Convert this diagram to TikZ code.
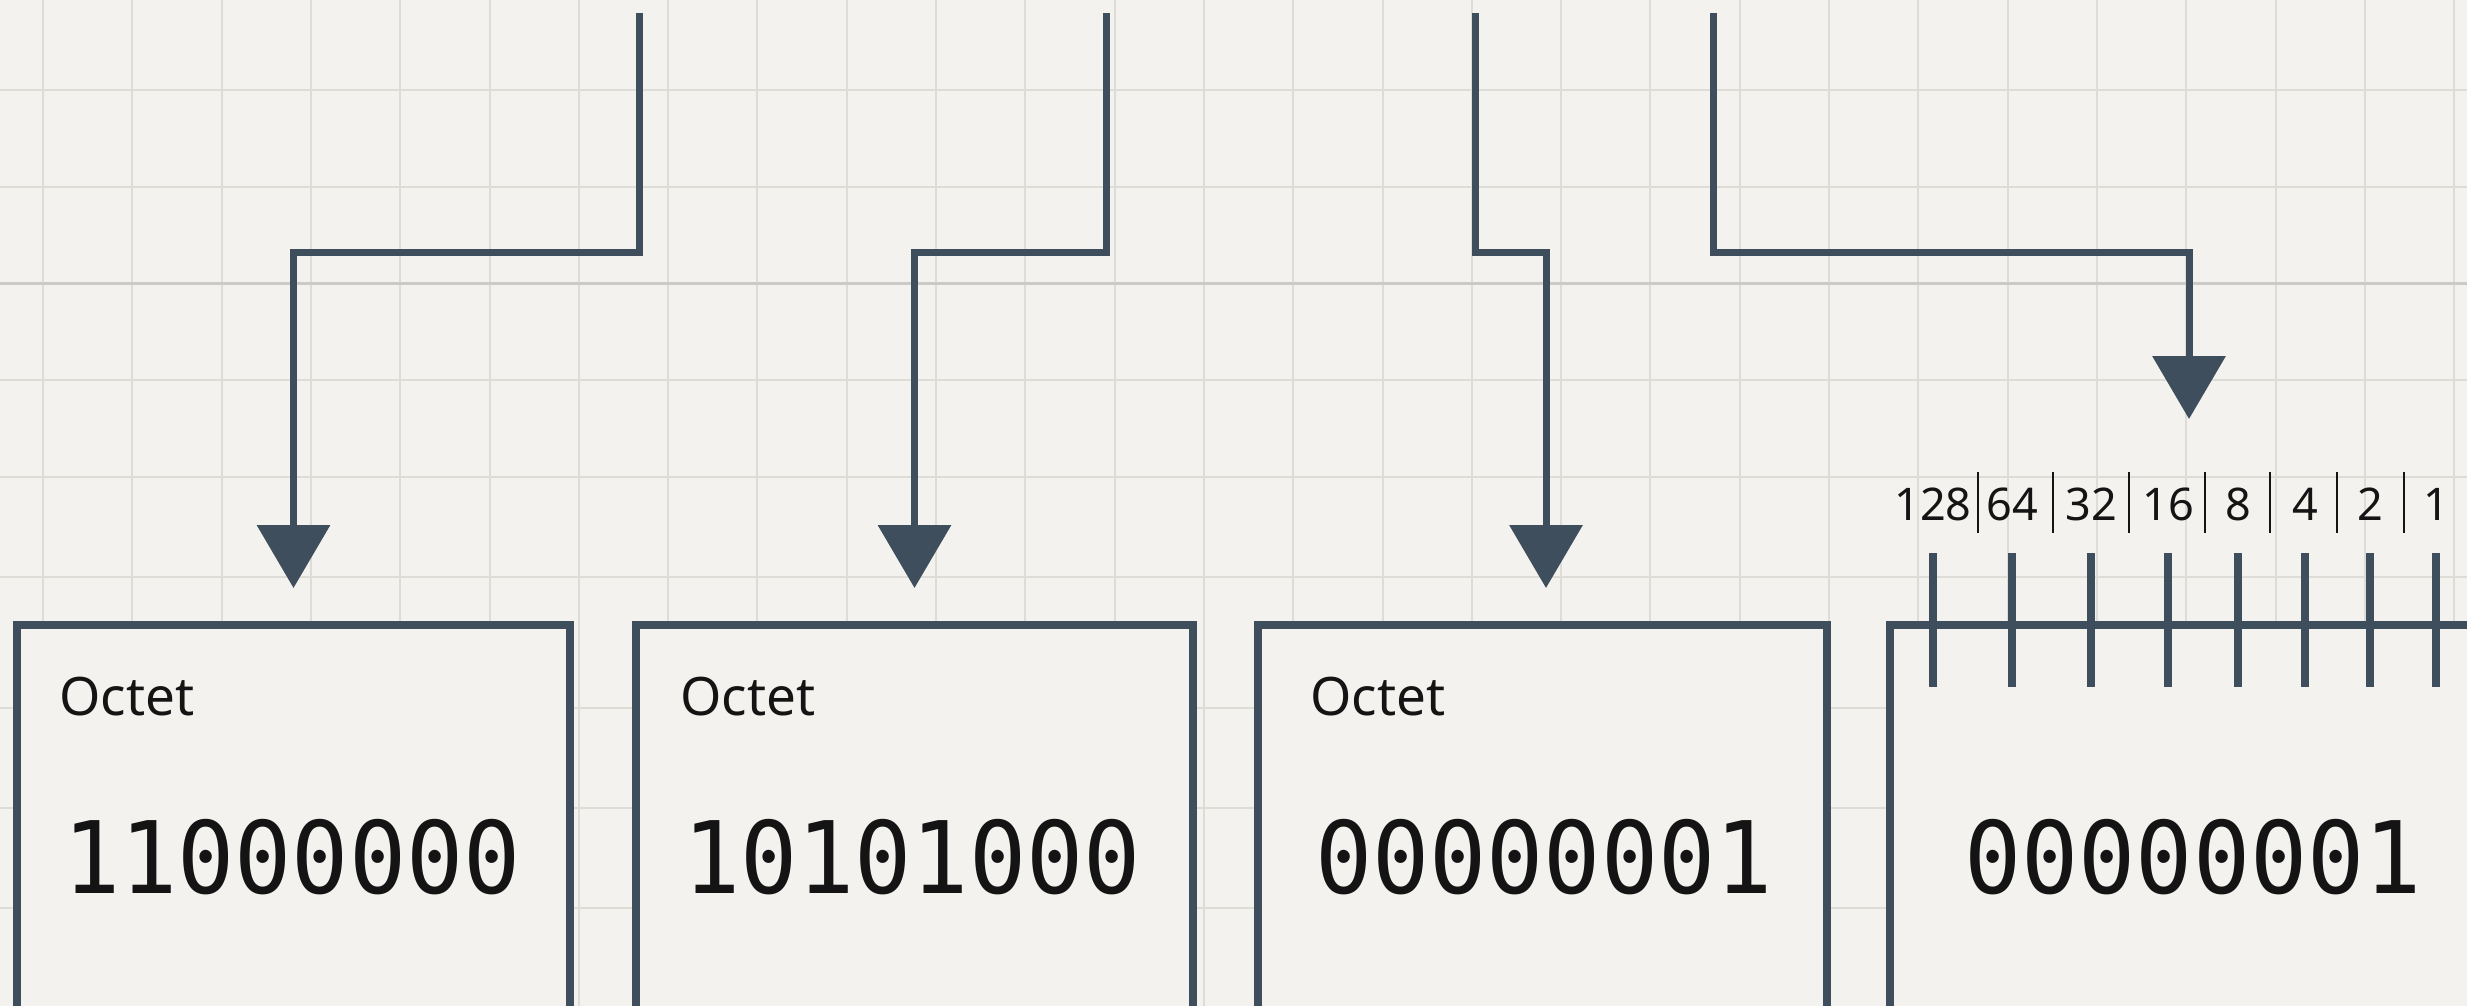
\documentclass[tikz,border=0pt]{standalone}
\usepackage{fontspec}
\setmainfont{Noto Sans}
\newfontfamily\digitfont[FakeStretch=0.95]{DejaVu Sans Mono}
\usetikzlibrary{arrows.meta}

\definecolor{paper}{HTML}{F3F2EE}
\definecolor{gridc}{HTML}{DDDCD7}
\definecolor{slate}{HTML}{3E4E5C}
\definecolor{ink}{HTML}{141414}

\begin{document}
\begin{tikzpicture}[x=1pt,y=-1pt,
  gridline/.style={draw=gridc, line width=2pt},
  octetbox/.style={rectangle, draw=slate, line width=8pt, fill=paper,
    inner sep=0pt, outer sep=0pt, anchor=north west, minimum height=520pt},
  conn/.style={draw=slate, line width=7pt, line join=miter,
    -{Triangle[length=63pt,width=72pt]}},
  tickmark/.style={draw=slate, line width=7.5pt},
  sepbar/.style={draw=ink, line width=2.8pt},
  octettitle/.style={font=\fontsize{53}{60}\selectfont, text=ink,
    inner sep=0pt, anchor=base west},
  bits/.style={font=\digitfont\fontsize{100}{115}\selectfont, text=ink,
    inner sep=0pt, anchor=base},
  weight/.style={font=\fontsize{45}{50}\selectfont, text=ink,
    inner sep=0pt, anchor=base}]

\useasboundingbox (0,0) rectangle (2467,1006);
\clip (0,0) rectangle (2467,1006);
\fill[paper] (0,0) rectangle (2467,1006);

% background grid
\foreach \gx in {0,...,27}
  \draw[gridline] ({43+89.3*\gx},0) -- ({43+89.3*\gx},1006);
\foreach \gy in {90,187,380,477,577,708,808,908}
  \draw[gridline] (0,\gy) -- (2467,\gy);
\draw[gridline, line width=3pt, draw=gridc!92!black] (0,283) -- (2467,283);

% the four octet boxes
\node[octetbox, minimum width=553pt] (b1) at (17,625) {};
\node[octetbox, minimum width=557pt] (b2) at (636,625) {};
\node[octetbox, minimum width=569pt] (b3) at (1258,625) {};
\node[octetbox, minimum width=606pt] (b4) at (1890,625) {};

% box contents
\node[octettitle] (o1) at (59,715) {Octet};
\node[octettitle] (o2) at (680,715) {Octet};
\node[octettitle] (o3) at (1310,715) {Octet};

\node[bits] (n1) at (292,893) {11000000};
\node[bits] (n2) at (912,893) {10101000};
\node[bits] (n3) at (1544,893) {00000001};
\node[bits] (n4) at (2193,893) {00000001};

% bit-weight scale over the last octet
\foreach \tx/\w [count=\i] in {1933/128,2012/64,2091/32,2168/16,2238/8,2305/4,2370/2,2436/1} {
  \draw[tickmark] (\tx,553) -- (\tx,687);
  \node[weight] (w\i) at (\tx,520) {\w};
}
\foreach \bx in {1978,2053,2129,2205,2270,2337,2404}
  \draw[sepbar] (\bx,472) -- (\bx,533);

% connectors
\coordinate (lane) at (0,252);
\coordinate (s1) at (639,13);
\coordinate (s2) at (1106,13);
\coordinate (s3) at (1475,13);
\coordinate (s4) at (1713,13);
\coordinate (t4) at (2189,419);

\draw[conn] (s1) |- (b1.north |- lane) -- ([yshift=37pt]b1.north);
\draw[conn] (s2) |- (b2.north |- lane) -- ([yshift=37pt]b2.north);
\draw[conn] (s3) |- ([xshift=3.5pt]b3.north |- lane) -- ([xshift=3.5pt,yshift=37pt]b3.north);
\draw[conn] (s4) |- (t4 |- lane) -- (t4);

\end{tikzpicture}
\end{document}
